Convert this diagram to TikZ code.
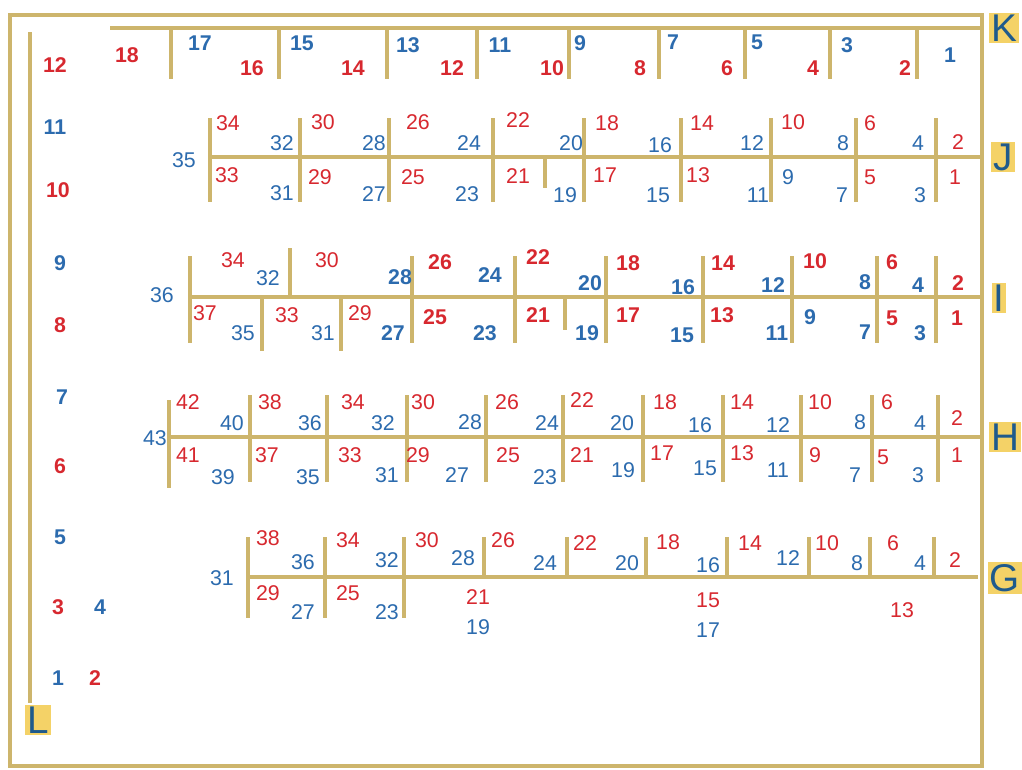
\documentclass[tikz,border=0pt]{standalone}
\usepackage{fontspec}
\setmainfont{Liberation Sans}
\usepackage{tikz}
\definecolor{gold}{HTML}{CDB56C}
\definecolor{rd}{HTML}{D7282F}
\definecolor{bl}{HTML}{2C6BAE}
\definecolor{tagink}{HTML}{1F5A8C}
\definecolor{tagfill}{HTML}{F4D267}
\tikzset{
  frame/.style={draw=gold,line width=3pt},
  rail/.style={draw=gold,line width=3pt},
  tick/.style={draw=gold,line width=3.6pt},
  num/.style={inner sep=0pt,font=\fontsize{16}{16}\selectfont},
  numbold/.style={num,font=\fontsize{16}{16}\selectfont\bfseries},
  tag/.style={fill=tagfill,text=tagink,inner sep=1.5pt,font=\fontsize{29}{29}\selectfont},
}

\begin{document}
\begin{tikzpicture}[x=0.75pt,y=-0.75pt]
  \useasboundingbox (0,0) rectangle (1022,769);
  \draw[frame] (10,15) rectangle (982,766);

  % K row and L column
  \draw[rail] (110,28) -- (982,28);
  \foreach \x in {171,279,387,477,569,659,745,830,917}
    \draw[tick] (\x,28) -- (\x,79);
  \draw[rail] (30,32) -- (30,703);
  \foreach \x/\y/\n/\c in {127/55/18/rd,200/43/17/bl,252/68/16/rd,302/43/15/bl,353/68/14/rd,408/45/13/bl,
      452/68/12/rd,500/45/11/bl,552/68/10/rd,580/43/9/bl,640/68/8/rd,673/42/7/bl,727/68/6/rd,757/42/5/bl,
      813/68/4/rd,847/45/3/bl,905/68/2/rd,950/55/1/bl}
    \node[numbold,text=\c] (K\n) at (\x,\y) {\n};
  \foreach \x/\y/\n/\c in {55/65/12/rd,55/127/11/bl,58/190/10/rd,60/263/9/bl,60/325/8/rd,62/397/7/bl,
      60/466/6/rd,60/537/5/bl,58/607/3/rd,100/607/4/bl,58/678/1/bl,95/678/2/rd}
    \node[numbold,text=\c] (L\n) at (\x,\y) {\n};

  % J row
  \draw[rail] (208,157) -- (982,157);
  \foreach \x in {210,300,389,493,584,681,771,856,936}
    \draw[tick] (\x,118) -- (\x,202);
  \draw[tick] (545,159) -- (545,188);
  \foreach \x/\y/\n/\c in {184/160/35/bl,228/123/34/rd,282/143/32/bl,323/122/30/rd,374/143/28/bl,418/122/26/rd,
      469/143/24/bl,518/120/22/rd,571/143/20/bl,607/123/18/rd,660/145/16/bl,702/123/14/rd,752/143/12/bl,
      793/122/10/rd,843/143/8/bl,870/123/6/rd,918/143/4/bl,958/142/2/rd,
      227/175/33/rd,282/193/31/bl,320/177/29/rd,374/194/27/bl,413/177/25/rd,467/194/23/bl,518/176/21/rd,
      565/195/19/bl,605/175/17/rd,658/195/15/bl,698/175/13/rd,758/195/11/bl,788/177/9/bl,842/195/7/bl,
      870/177/5/rd,920/195/3/bl,955/177/1/rd}
    \node[num,text=\c] (J\n) at (\x,\y) {\n};

  % I row
  \draw[rail] (190,297) -- (982,297);
  \foreach \x in {190,412,515,606,703,792,877,936}
    \draw[tick] (\x,256) -- (\x,343);
  \draw[tick] (290,248) -- (290,297);
  \foreach \x in {262,341}
    \draw[tick] (\x,297) -- (\x,351);
  \draw[tick] (565,299) -- (565,330);
  \foreach \x/\y/\n/\c in {162/295/36/bl,233/260/34/rd,268/278/32/bl,327/260/30/rd,205/313/37/rd,
      243/333/35/bl,287/315/33/rd,323/333/31/bl,360/313/29/rd}
    \node[num,text=\c] (I\n) at (\x,\y) {\n};
  \foreach \x/\y/\n/\c in {400/277/28/bl,440/262/26/rd,490/275/24/bl,538/257/22/rd,590/283/20/bl,
      628/263/18/rd,683/287/16/bl,723/263/14/rd,773/285/12/bl,815/261/10/rd,865/282/8/bl,892/262/6/rd,
      918/285/4/bl,958/283/2/rd,393/333/27/bl,435/317/25/rd,485/333/23/bl,538/315/21/rd,587/333/19/bl,
      628/315/17/rd,682/335/15/bl,722/315/13/rd,777/333/11/bl,810/317/9/bl,865/332/7/bl,892/318/5/rd,
      920/333/3/bl,957/318/1/rd}
    \node[numbold,text=\c] (I\n) at (\x,\y) {\n};

  % H row
  \draw[rail] (169,437) -- (982,437);
  \draw[tick] (169,400) -- (169,488);
  \foreach \x in {250,327,407,486,563,643,723,801,872,938}
    \draw[tick] (\x,395) -- (\x,482);
  \foreach \x/\y/\n/\c in {155/438/43/bl,188/402/42/rd,232/423/40/bl,270/402/38/rd,310/423/36/bl,
      353/402/34/rd,383/423/32/bl,423/402/30/rd,470/422/28/bl,507/402/26/rd,547/423/24/bl,582/400/22/rd,
      622/423/20/bl,665/402/18/rd,700/425/16/bl,742/402/14/rd,778/425/12/bl,820/402/10/rd,860/422/8/bl,
      887/402/6/rd,920/423/4/bl,957/418/2/rd,
      188/455/41/rd,223/477/39/bl,267/455/37/rd,308/477/35/bl,350/455/33/rd,387/475/31/bl,418/455/29/rd,
      457/475/27/bl,508/455/25/rd,545/477/23/bl,582/455/21/rd,623/470/19/bl,662/453/17/rd,705/468/15/bl,
      742/453/13/rd,778/470/11/bl,815/455/9/rd,855/475/7/bl,883/457/5/rd,918/475/3/bl,957/455/1/rd}
    \node[num,text=\c] (H\n) at (\x,\y) {\n};

  % G row
  \draw[rail] (248,577) -- (978,577);
  \foreach \x in {248,325,404}
    \draw[tick] (\x,537) -- (\x,618);
  \foreach \x in {484,567,646,727,809,870,934}
    \draw[tick] (\x,537) -- (\x,577);
  \foreach \x/\y/\n/\c in {222/578/31/bl,268/538/38/rd,303/562/36/bl,348/540/34/rd,387/560/32/bl,
      427/540/30/rd,463/558/28/bl,503/540/26/rd,545/563/24/bl,585/543/22/rd,627/563/20/bl,668/542/18/rd,
      708/565/16/bl,750/543/14/rd,788/558/12/bl,827/543/10/rd,857/563/8/bl,893/543/6/rd,920/563/4/bl,
      955/560/2/rd,
      268/593/29/rd,303/612/27/bl,348/593/25/rd,387/612/23/bl,478/597/21/rd,478/627/19/bl,
      708/600/15/rd,708/630/17/bl,902/610/13/rd}
    \node[num,text=\c] (G\n) at (\x,\y) {\n};

  \node[tag] (tagK) at (1004,28) {K};
  \node[tag] (tagJ) at (1003,157) {J};
  \node[tag] (tagI) at (999,298) {I};
  \node[tag] (tagH) at (1005,437) {H};
  \node[tag] (tagG) at (1005,578) {G};
  \node[tag] (tagL) at (38,720) {L};
\end{tikzpicture}
\end{document}
